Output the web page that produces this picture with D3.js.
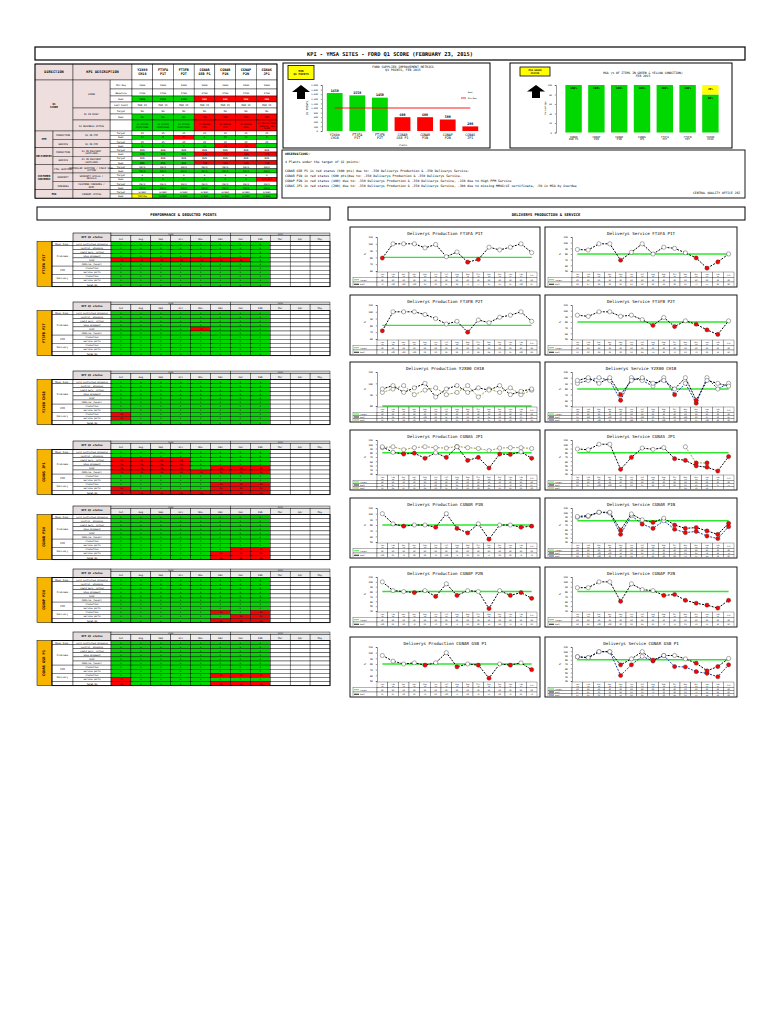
<!DOCTYPE html>
<html>
<head>
<meta charset="utf-8">
<script src="https://cdn.jsdelivr.net/npm/d3@7"></script>
<style>
  body { margin: 0; background: #fff; }
  svg { display: block; font-family: "DejaVu Sans Mono", monospace; }
</style>
</head>
<body>
<div id="chart"></div>
<script>
// ---- data ----
const title = "KPI - YMSA SITES - FORD Q1 SCORE (FEBRUARY 23, 2015)";
const plants = ["Y2X00 CH18", "FT3FA P1T", "FT3FB P2T", "CGNAR GSB P1", "CGNAR P1N", "CGNAP P2N", "CGNAS JP1"];
const q1Points = [1650, 1550, 1450, 600, 600, 500, 200];
const q1MinReq = 1000;
const q1Baseline = [1700, 1700, 1700, 1700, 1700, 1700, 1700];
const q1Ticks = [0, 200, 400, 600, 800, 1000, 1200, 1400, 1600, 1800, 2000];
const q1Audit = ["MAR 15", "MAR 15", "MAR 15", "MAR 15", "MAR 15", "MAR 15", "MAR 15"];
const q1Risk = ["NO", "NO", "NO", "YES", "YES", "YES", "YES"];
const q1Status = ["Q1 STATUS\nMAINTAINED", "Q1 STATUS\nMAINTAINED", "Q1 STATUS\nMAINTAINED",
  "Q1 REVOKE\nRISK", "Q1 REVOKE\nRISK", "Q1 REVOKE\nRISK", "Q1 REVOKE RISK\nMMOG/LE, MSA\nCLOSE"];

const kpiPairs = [
  ["PPM", "PRODUCTION", "Q1 IN PPM"],
  ["PPM", "SERVICE", "Q1 IN PPM"],
  ["DELIVERIES", "PRODUCTION", "Q1 IN DELIVERY (SUPPLIER)"],
  ["DELIVERIES", "SERVICE", "Q1 IN DELIVERY (SUPPLIER)"],
  ["CUSTOMER CONCERNS", "CTRL SHIPPING", "CONTROLLED SHIPPING / FIELD SERV. ACTION"],
  ["CUSTOMER CONCERNS", "WARRANTY", "WARRANTY SPILLS / RECALLS"],
  ["CUSTOMER CONCERNS", "CONCERNS", "CUSTOMER CONCERNS / NCMP"],
  ["MSA", "", "CURRENT STATUS"]
];
const pairTargets = ["25", "25", "80%", "80%", "Zero", "0", "Zero", "Green"];
const pairReal = [
  ["12", "8", "41", "6", "15", "10", "3"],
  ["0", "5", "9", "14", "52", "38", "7"],
  ["95%", "92%", "91%", "74%", "72%", "68%", "67%"],
  ["88%", "85%", "86%", "70%", "66%", "62%", "71%"],
  ["Zero", "Zero", "Zero", "Zero", "Zero", "Zero", "Zero"],
  ["0", "0", "0", "0", "0", "0", "Overdue"],
  ["Zero", "Zero", "Zero", "Zero", "Zero", "Zero", "Zero"],
  ["Yellow", "Green", "Green", "Green", "Green", "Green", "Green"]
];
const pairStatus = ["ggrgggg", "ggggrrg", "gggrrrr", "gggrrrr", "ggggggg", "ggggggr", "ggggggg", "ygggggg"];

const msaPlants = ["CGNAR GSB P1", "CGNAP P2N", "CGNAR P1N", "CGNAS JP1", "FT3FA P1T", "FT3FB P2T", "Y2X00 CH18"];
const msaGreen = [100, 100, 100, 100, 100, 100, 80];
const msaYellow = [0, 0, 0, 0, 0, 0, 20];
const msaTicks = [0, 20, 40, 60, 80, 100];

const observations = [
  "OBSERVATIONS:",
  "4 Plants under the target of Q1 points:",
  "CGNAR GSB P1 in red status (600 pts) due to: -350 Deliverys Production & -350 Deliverys Service.",
  "CGNAR P1N in red status (600 pts)due to: -350 Deliverys Production & -350 Deliverys Service.",
  "CGNAP P2N in red status (400) due to: -350 Deliverys Production & -350 Deliverys Service, -150 due to High PPM Service",
  "CGNAS JP1 in red status (200) due to: -350 Deliverys Production & -350 Deliverys Service, -300 due to missing MMOG/LE certificate, -50 in MSA by Overdue"
];
const officeNote = "CENTRAL QUALITY OFFICE JRZ";

// performance & deducted points tables
const kpiPlants = ["FT3FA P1T", "FT3FB P2T", "Y2X00 CH18", "CGNAS JP1", "CGNAR P1N", "CGNAP P2N", "CGNAR GSB P1"];
const kpiMonths = ["Jul", "Aug", "Sep", "Oct", "Nov", "Dec", "Jan", "Feb", "Mar", "Apr", "May"];
const kpiYears = [["2014", 6], ["2015", 5]];
const kpiCategories = [["Mass Insp.", 1], ["Problems", 5], ["PPM", 2], ["Delivery", 2], ["", 1]];
const kpiRowLabels = ["Ford Controlled Shipping", "Control. Shipping", "Field Serv. Action", "Stop Shipment",
  "NCMP", "MMOG/LE (level)", "Production", "Service parts", "Production", "Service parts", "Total Q1"];
const gridFT3FA = ["gggggggg", "gggggggg", "gggggggg", "gggggggg", "rrrrrrrg", "gggggggg",
  "gggggggg", "gggggggg", "gggggggg", "gggggggg", "gggggggg"];
const gridFT3FB = ["gggggggg", "gggggggg", "gggggggg", "gggggggg", "ggggrggg", "gggggggg",
  "gggggggg", "gggggggg", "gggggggg", "gggggggg", "gggggggg"];
const gridY2X00 = ["gggggggg", "gggggggg", "gggggggg", "gggggggg", "gggggggg", "gggggggg",
  "gggggggg", "gggggggg", "rggggggg", "rggggggg", "gggggggg"];
const gridJP1 = ["gggggggg", "gggggggg", "rrrrgggg", "rrrrgggg", "rrrrgrrr", "rrrrrrrr",
  "gggggggg", "gggggggg", "gggggrrr", "rggggrrr", "rrrrrrrr"];
const gridP1N = ["gggggggg", "gggggggg", "gggggggg", "gggggggg", "gggggggg", "gggggggg",
  "gggggggg", "gggggggg", "ggggggrr", "gggggrrr", "gggggrrr"];
const gridP2N = ["gggggggg", "gggggggg", "gggggggg", "gggggggg", "gggggggg", "gggggggg",
  "gggggggg", "gggggggg", "gggggrgr", "ggggggrr", "gggggrrr"];
const gridGSB = ["gggggggg", "gggggggg", "gggggggg", "gggggggg", "gggggggg", "gggggggg",
  "gggggggg", "gggggggg", "gggggrrr", "rggggggg", "rggggrrr"];
const kpiGrids = [gridFT3FA, gridFT3FB, gridY2X00, gridJP1, gridP1N, gridP2N, gridGSB];

// deliveries production & service
const dlvMonths = ["Jan-14", "Feb-14", "Mar-14", "Apr-14", "May-14", "Jun-14", "Jul-14", "Aug-14",
  "Sep-14", "Oct-14", "Nov-14", "Dec-14", "Jan-15", "Feb-15", "YTD"];
const dlvTarget = 80;
const prodFT3FA = [79, 100, 100, 100, 94, 99, 81, 88, 73, 77, 95, 91, 95, 100, 87];
const servFT3FA = [88, 87, 98, 98, 69, 83, 98, 80, 92, 90, 82, 73, 55, 66, 80];
const prodFT3FB = [72, 100, 100, 100, 96, 90, 82, 86, 70, 88, 84, 92, 95, 100, 86];
const servFT3FB = [92, 90, 98, 98, 90, 92, 84, 74, 88, 72, 82, 76, 66, 58, 82];
const prodY2X00 = [95, 98, 92, 96, 100, 88, 95, 98, 92, 96, 94, 98, 90, 93, 95];
const prodY2X00b = [92, 95, 98, 90, 94, 96, 90, 92, 98, 88, 95, 92, 96, 90, 94];
const servY2X00 = [95, 100, 90, 100, 70, 95, 100, 90, 95, 80, 100, 60, 95, 90, 85];
const servY2X00b = [90, 95, 100, 95, 60, 100, 95, 85, 100, 70, 90, 55, 100, 80, 90];
const prodJP1 = [94, 81, 77, 79, 67, 80, 69, 94, 62, 69, 44, 77, 76, 82, 67];
const prodJP1b = [92, 94, 87, 92, 94, 92, 91, 95, 92, 90, 85, 91, 92, 92, 90];
const servJP1 = [89, 87, 100, 100, 41, 69, 91, 88, 92, 66, 62, 49, 46, 37, 71];
const servJP1b = [null, null, null, null, null, null, null, null, null, null, 94, 56, 56, null, null];
const prodP1N = [100, 82, 78, 80, 80, 76, 100, 74, 66, 82, 55, 80, 80, 76, 78];
const servP1N = [90, 92, 100, 100, 58, 96, 82, 76, 86, 70, 62, 64, 56, 48, 74];
const servP1Nb = [88, 90, 100, 98, 48, 92, 72, 62, 80, 60, 52, 55, 44, 38, 66];
const prodP2N = [100, 82, 80, 78, 82, 70, 96, 72, 82, 80, 45, 82, 72, 78, 66];
const servP2N = [88, 88, 100, 100, 60, 96, 84, 82, 72, 74, 62, 56, 52, 46, 62];
const prodGSB = [95, 85, 80, 82, 78, 82, 100, 75, 80, 78, 55, 80, 78, 82, 70];
const servGSB = [87, 85, 99, 99, 68, 82, 99, 79, 90, 90, 82, 72, 54, 64, 83];
const servGSBb = [87, 85, 99, 99, 43, 68, 88, 77, 90, 64, 63, 52, 48, 40, 68];

const BLACK = "#000", OLIVE = "#9c9c40", BLUE = "#1c3d9c";
const dlvCharts = [
  ["Deliverys Production FT3FA P1T", [[prodFT3FA, BLACK]]],
  ["Deliverys Service FT3FA P1T", [[servFT3FA, BLACK]]],
  ["Deliverys Production FT3FB P2T", [[prodFT3FB, BLACK]]],
  ["Deliverys Service FT3FB P2T", [[servFT3FB, BLACK]]],
  ["Deliverys Production Y2X00 CH18", [[prodY2X00b, OLIVE], [prodY2X00, BLACK]]],
  ["Deliverys Service Y2X00 CH18", [[servY2X00b, BLUE], [servY2X00, BLACK]]],
  ["Deliverys Production CGNAS JP1", [[prodJP1b, OLIVE], [prodJP1, BLACK]]],
  ["Deliverys Service CGNAS JP1", [[servJP1b, OLIVE], [servJP1, BLACK]]],
  ["Deliverys Production CGNAR P1N", [[prodP1N, BLACK]]],
  ["Deliverys Service CGNAR P1N", [[servP1Nb, BLUE], [servP1N, BLACK]]],
  ["Deliverys Production CGNAP P2N", [[prodP2N, BLACK]]],
  ["Deliverys Service CGNAP P2N", [[servP2N, BLACK]]],
  ["Deliverys Production CGNAR GSB P1", [[prodGSB, BLACK]]],
  ["Deliverys Service CGNAR GSB P1", [[servGSBb, BLUE], [servGSB, BLACK]]]
];

// ---- drawing ----
const GREEN = "#00d800", RED = "#ff0000", YELLOW = "#ffff00", PINK = "#efdede", ORANGE = "#f7b500";
const fillFor = { g: GREEN, r: RED, y: YELLOW, w: "#fff" };

const svg = d3.select("#chart").append("svg").attr("width", 768).attr("height", 1024);

function rect(g, x, y, w, h, fill, stroke = "#000", sw = 0.4) {
  return g.append("rect").attr("x", x).attr("y", y).attr("width", w).attr("height", h)
    .attr("fill", fill).attr("stroke", stroke).attr("stroke-width", sw);
}
function label(g, x, y, str, size, opts = {}) {
  const lines = String(str).split("\n");
  const t = g.append("text").attr("x", x).attr("y", y - (lines.length - 1) * size * 0.55)
    .attr("font-size", size).attr("text-anchor", opts.anchor || "middle")
    .attr("dominant-baseline", "central").attr("font-weight", opts.weight || "normal")
    .attr("fill", opts.fill || "#000");
  if (opts.rotate) t.attr("transform", `rotate(${opts.rotate},${x},${y})`);
  lines.forEach((l, i) => t.append("tspan").attr("x", x).attr("dy", i ? size * 1.1 : 0).text(l));
  return t;
}
const twoLines = s => s.replace(" ", "\n");

// title
rect(svg, 35, 47, 710, 13, "#fff", "#000", 1.2);
label(svg, 390, 53.5, title, 5.3, { weight: "bold" });

// ---- top-left KPI table ----
const tl = svg.append("g");
const plantX = d3.scaleBand().domain(plants).range([132, 277]);
const pw = plantX.bandwidth();
rect(tl, 35, 64, 38, 16, PINK);
label(tl, 54, 72, "DIRECTION", 3.6, { weight: "bold" });
rect(tl, 73, 64, 59, 16, PINK);
label(tl, 102.5, 72, "KPI DESCRIPTION", 3.6, { weight: "bold" });
plants.forEach(p => {
  rect(tl, plantX(p), 64, pw, 16, "#fff");
  label(tl, plantX(p) + pw / 2, 72, twoLines(p), 3.4, { weight: "bold" });
});

const rowHeights = [9, 7, 6, 6, 6, 6, 11].concat(d3.range(16).map(() => 4.2));
const rowY = [80];
rowHeights.forEach((h, i) => rowY.push(rowY[i] + h));
const span = (a, b) => [rowY[a], rowY[b + 1] - rowY[a]];

const tableRows = [
  { sub: "Min Req", vals: plants.map(() => q1MinReq), fill: () => "#fff" },
  { sub: "Baseline", vals: q1Baseline, fill: () => "#fff" },
  { sub: "Real", vals: q1Points, fill: (v) => v >= q1MinReq ? GREEN : RED, bold: true },
  { sub: "Last Audit", vals: q1Audit, fill: () => "#fff" },
  { sub: "Target", vals: plants.map(() => "NO"), fill: () => "#fff" },
  { sub: "Real", vals: q1Risk, fill: (v) => v === "NO" ? GREEN : RED },
  { sub: "", vals: q1Status, fill: (v, j) => q1Risk[j] === "NO" ? GREEN : RED }
];
kpiPairs.forEach((p, k) => {
  tableRows.push({ sub: "Target", vals: plants.map(() => pairTargets[k]), fill: () => "#fff" });
  tableRows.push({ sub: "Real", vals: pairReal[k], fill: (v, j) => fillFor[pairStatus[k][j]] });
});

tableRows.forEach((r, i) => {
  const [y, h] = span(i, i);
  rect(tl, 110, y, 22, h, "#fff");
  label(tl, 121, y + h / 2, r.sub, 2.3);
  r.vals.forEach((v, j) => {
    const f = r.fill(v, j);
    rect(tl, plantX(plants[j]), y, pw, h, f);
    label(tl, plantX(plants[j]) + pw / 2, y + h / 2, v, i === 6 ? 2.1 : 2.5,
      { weight: r.bold ? "bold" : "normal", fill: r.bold && f === RED ? "#fff" : "#000" });
  });
});

// direction + kpi description cells
const dirCells = [[0, 6, "Q1 SCORE"]];
const kpiCells = [[0, 3, "SCORE"], [4, 5, "Q1 IN RISK?"], [6, 6, "Q1 BUSINESS STATUS"]];
const subCells = [];
kpiPairs.forEach((p, k) => {
  const a = 7 + k * 2;
  kpiCells.push([a, a + 1, p[2]]);
  if (p[1]) subCells.push([a, a + 1, p[1]]);
});
d3.groups(kpiPairs.map((p, k) => [p[0], 7 + k * 2]), d => d[0]).forEach(([name, list]) => {
  dirCells.push([list[0][1], list[list.length - 1][1] + 1, name, list.length > 1 || name !== "MSA"]);
});
dirCells.forEach(([a, b, name, split]) => {
  const [y, h] = span(a, b);
  rect(tl, 35, y, split ? 18 : 38, h, PINK);
  label(tl, split ? 44 : 54, y + h / 2, name.replace(" ", "\n"), 2.6, { weight: "bold" });
});
subCells.forEach(([a, b, name]) => {
  const [y, h] = span(a, b);
  rect(tl, 53, y, 20, h, PINK);
  label(tl, 63, y + h / 2, name, 2.3);
});
kpiCells.forEach(([a, b, name]) => {
  const [y, h] = span(a, b);
  rect(tl, 73, y, 37, h, PINK);
  label(tl, 91.5, y + h / 2, name.length > 20 ? name.replace(/ (?=[^ ]*$)/, "\n") : name, 2.3);
});
rect(tl, 35, 64, 242, rowY[rowY.length - 1] - 64, "none", "#000", 0.9);

// ---- Q1 points bar chart ----
const q1 = svg.append("g");
rect(q1, 283, 63, 207, 85, "#fff", "#000", 1);
rect(q1, 288, 65.5, 26, 14, YELLOW, "#000", 0.8);
label(q1, 301, 72.5, "MIN\nQ1 POINTS", 2.8, { weight: "bold" });
q1.append("path").attr("d", "M301,85 L310,92 L305,92 L305,99 L297,99 L297,92 L292,92 Z").attr("fill", "#000");
label(q1, 403, 68.5, "FORD SUPPLIER IMPROVEMENT METRICS\nQ1 POINTS, FEB 2015", 3.1);
const q1x = d3.scaleBand().domain(plants).range([320, 485]).padding(0.3);
const q1y = d3.scaleLinear().domain([0, 2000]).range([131, 85]);
q1.append("g").attr("transform", "translate(322,0)")
  .call(d3.axisLeft(q1y).tickValues(q1Ticks).tickSize(1.2).tickFormat(d3.format(",")))
  .call(a => a.selectAll("text").attr("font-size", 2.2).attr("font-family", "DejaVu Sans Mono"))
  .call(a => a.selectAll("path,line").attr("stroke-width", 0.4));
label(q1, 307, 108, "Q1 POINTS", 2.6, { rotate: -90 });
q1.selectAll("rect.bar").data(q1Points).join("rect").attr("class", "bar")
  .attr("x", (d, i) => q1x(plants[i])).attr("width", q1x.bandwidth())
  .attr("y", d => q1y(d)).attr("height", d => q1y(0) - q1y(d))
  .attr("fill", d => d >= q1MinReq ? GREEN : RED);
q1Points.forEach((d, i) => label(q1, q1x(plants[i]) + q1x.bandwidth() / 2, q1y(d) - 2.5, d, 3.3, { weight: "bold" }));
q1.append("line")
  .attr("x1", q1x(plants[0]) + q1x.bandwidth() / 2).attr("x2", q1x(plants[6]) + q1x.bandwidth() / 2)
  .attr("y1", q1y(q1MinReq)).attr("y2", q1y(q1MinReq)).attr("stroke", RED).attr("stroke-width", 0.9);
plants.forEach(p => label(q1, q1x(p) + q1x.bandwidth() / 2, 136.5, twoLines(p), 3.3));
label(q1, 403, 144.5, "Plants", 2.2);
label(q1, 468, 92, "Real", 2, { anchor: "start" });
q1.append("line").attr("x1", 461).attr("x2", 466).attr("y1", 98).attr("y2", 98).attr("stroke", RED).attr("stroke-width", 0.8);
label(q1, 468, 98, "Min Req", 2, { anchor: "start" });

// ---- MSA bar chart ----
const msa = svg.append("g");
rect(msa, 510, 63, 222, 85, "#fff", "#000", 1);
rect(msa, 520, 67, 30, 9, YELLOW, "#000", 0.8);
label(msa, 535, 71.5, "MSA GREEN\nSTATUS", 2.4, { weight: "bold" });
msa.append("path").attr("d", "M536,85 L545,91.5 L540,91.5 L540,98 L532,98 L532,91.5 L527,91.5 Z").attr("fill", "#000");
label(msa, 643, 74.5, "MSA (% OF ITEMS IN GREEN & YELLOW CONDITION)\nFEB 2015", 3);
const mx = d3.scaleBand().domain(msaPlants).range([559, 725]).padding(0.28);
const my = d3.scaleLinear().domain([0, 100]).range([132.5, 85]);
msa.append("g").attr("transform", "translate(556,0)")
  .call(d3.axisLeft(my).tickValues(msaTicks).tickSize(1.2))
  .call(a => a.selectAll("text").attr("font-size", 2.2).attr("font-family", "DejaVu Sans Mono"))
  .call(a => a.selectAll("path,line").attr("stroke-width", 0.4));
label(msa, 545, 108, "Percentage", 2.2, { rotate: -90 });
msa.selectAll("rect.g").data(msaGreen).join("rect").attr("class", "g")
  .attr("x", (d, i) => mx(msaPlants[i])).attr("width", mx.bandwidth())
  .attr("y", d => my(d)).attr("height", d => my(0) - my(d)).attr("fill", GREEN);
msa.selectAll("rect.y").data(msaYellow).join("rect").attr("class", "y")
  .attr("x", (d, i) => mx(msaPlants[i])).attr("width", mx.bandwidth())
  .attr("y", (d, i) => my(msaGreen[i] + d)).attr("height", d => my(0) - my(d))
  .attr("fill", YELLOW).attr("opacity", d => d ? 1 : 0);
msaGreen.forEach((d, i) => {
  const cx = mx(msaPlants[i]) + mx.bandwidth() / 2;
  label(msa, cx, my(d) + 3, d + "%", 2.8, { weight: "bold" });
  if (msaYellow[i]) label(msa, cx, my(d + msaYellow[i]) + 4, msaYellow[i] + "%", 2.8, { weight: "bold" });
  label(msa, cx, 138, twoLines(msaPlants[i]), 2.6);
});

// ---- observations ----
const ob = svg.append("g");
rect(ob, 282, 150, 463, 48, "#fff", "#000", 0.9);
const obY = [154, 162, 171, 176, 181, 186];
observations.forEach((t, i) => label(ob, 285, obY[i], t, 3.2, { anchor: "start", weight: i === 0 ? "bold" : "normal" }));
label(ob, 740, 193, officeNote, 3, { anchor: "end" });

// ---- section headers ----
rect(svg, 37, 207, 293, 13, "#fff", "#000", 1);
label(svg, 183.5, 213.5, "PERFORMANCE & DEDUCTED POINTS", 3.8, { weight: "bold" });
rect(svg, 348, 207, 397, 13, "#fff", "#000", 1);
label(svg, 546, 213.5, "DELIVERYS PRODUCTION & SERVICE", 3.8, { weight: "bold" });

// ---- performance tables ----
const monthX = d3.scaleBand().domain(kpiMonths).range([111, 330]);
const mw = monthX.bandwidth();
const tableTops = [233, 302, 371, 441, 506, 569, 632];
const cellText = { g: "0", r: "-50", y: "-", w: "" };
kpiPlants.forEach((plant, t) => {
  const g = svg.append("g");
  const top = tableTops[t], dataY = top + 8.5, rh = 4.1;
  rect(g, 73, top, 38, 8.5, "#e4dcdc", "#000", 0.6);
  label(g, 92, top + 4.25, "KPI Q1 status", 2.7, { weight: "bold" });
  let col = 0;
  kpiYears.forEach(([yr, n]) => {
    const x = monthX(kpiMonths[col]);
    rect(g, x, top, n * mw, 2.5, "#d4d4d4");
    label(g, x + n * mw / 2, top + 1.25, yr, 2);
    col += n;
  });
  kpiMonths.forEach(m => {
    rect(g, monthX(m), top + 2.5, mw, 6, "#ececec");
    label(g, monthX(m) + mw / 2, top + 5.5, m, 2.5);
  });
  rect(g, 37, dataY, 15, 11 * rh, ORANGE, "#000", 0.5);
  label(g, 44.5, dataY + 5.5 * rh, plant, 3.6, { weight: "bold", rotate: -90 });
  let r = 0;
  kpiCategories.forEach(([name, n]) => {
    rect(g, 52, dataY + r * rh, 21, n * rh, "#fff");
    label(g, 62.5, dataY + (r + n / 2) * rh, name, 2.4);
    r += n;
  });
  kpiRowLabels.forEach((l, i) => {
    rect(g, 73, dataY + i * rh, 38, rh, "#fff");
    label(g, 92, dataY + (i + 0.5) * rh, l, 2.2, { weight: i === 10 ? "bold" : "normal" });
  });
  kpiGrids[t].forEach((row, i) => {
    kpiMonths.forEach((m, j) => {
      const c = row[j] || "w";
      rect(g, monthX(m), dataY + i * rh, mw, rh, fillFor[c]);
      label(g, monthX(m) + mw / 2, dataY + (i + 0.5) * rh, cellText[c], 2.1);
    });
  });
  rect(g, 52, dataY, 278, 11 * rh, "none", "#000", 0.9);
});

// ---- deliveries charts ----
const chartTops = [227, 295, 362, 430, 498, 567, 637];
dlvCharts.forEach(([name, series], i) => {
  const colIdx = i % 2, rowIdx = Math.floor(i / 2);
  const x0 = colIdx ? 545 : 350, w = colIdx ? 192 : 190, y0 = chartTops[rowIdx], h = 60;
  const g = svg.append("g");
  rect(g, x0, y0, w, h, "#fff", "#000", 0.9);
  label(g, x0 + w / 2, y0 + 6, name, 4.2);
  const x = d3.scaleBand().domain(dlvMonths).range([x0 + 27, x0 + w - 3]);
  const bw = x.bandwidth();
  const cx = m => x(m) + bw / 2;
  const vals = series.flatMap(s => s[0]).filter(v => v != null);
  const lo = Math.floor((d3.min(vals) - 5) / 10) * 10;
  const y = d3.scaleLinear().domain([lo, 110]).range([y0 + 44, y0 + 10]);
  g.append("g").attr("transform", `translate(${x0 + 27},0)`)
    .call(d3.axisLeft(y).ticks(Math.round((110 - lo) / 10)).tickSize(1.2))
    .call(a => a.selectAll("text").attr("font-size", 2.4).attr("font-family", "DejaVu Sans Mono"))
    .call(a => a.selectAll("path,line").attr("stroke-width", 0.4));
  label(g, x0 + 15, y0 + 27, "%", 3, { rotate: -90 });
  g.append("line").attr("x1", cx(dlvMonths[0])).attr("x2", cx(dlvMonths[dlvMonths.length - 1]))
    .attr("y1", y(dlvTarget)).attr("y2", y(dlvTarget)).attr("stroke", "#2ee62e").attr("stroke-width", 1.4);
  series.forEach(([values, color]) => {
    const line = d3.line().defined(d => d != null).x((d, j) => cx(dlvMonths[j])).y(d => y(d));
    g.append("path").attr("d", line(values)).attr("fill", "none").attr("stroke", color)
      .attr("stroke-width", 1).attr("stroke-dasharray", "2,1.3");
    g.selectAll(null).data(values.map((v, j) => [v, j]).filter(d => d[0] != null)).join("circle")
      .attr("cx", d => cx(dlvMonths[d[1]])).attr("cy", d => y(d[0])).attr("r", 2.1)
      .attr("fill", d => d[0] < dlvTarget ? RED : "#fff").attr("stroke", "#333").attr("stroke-width", 0.4);
  });
  // data table
  const ty = y0 + 45;
  const rows = [["Target", "#2ee62e", dlvMonths.map(() => dlvTarget)]].concat(series.slice().reverse().map(s => ["Real", s[1], s[0]]));
  const rH = 9 / rows.length;
  dlvMonths.forEach(m => {
    rect(g, x(m), ty, bw, 5.5, "#fff", "#000", 0.3);
    label(g, x(m) + bw / 2, ty + 2.75, m.replace("-", "\n"), 1.9);
  });
  rows.forEach(([nm, color, vals2], k) => {
    const yy = ty + 5.5 + k * rH;
    rect(g, x0 + 3, yy, 24, rH, "#fff", "#000", 0.3);
    g.append("line").attr("x1", x0 + 4).attr("x2", x0 + 9).attr("y1", yy + rH / 2).attr("y2", yy + rH / 2)
      .attr("stroke", color).attr("stroke-width", 0.9);
    label(g, x0 + 10, yy + rH / 2, nm, 1.9, { anchor: "start" });
    dlvMonths.forEach((m, j) => {
      rect(g, x(m), yy, bw, rH, "#fff", "#000", 0.3);
      label(g, x(m) + bw / 2, yy + rH / 2, vals2[j] == null ? "" : vals2[j], 1.9);
    });
  });
});
</script>
</body>
</html>
